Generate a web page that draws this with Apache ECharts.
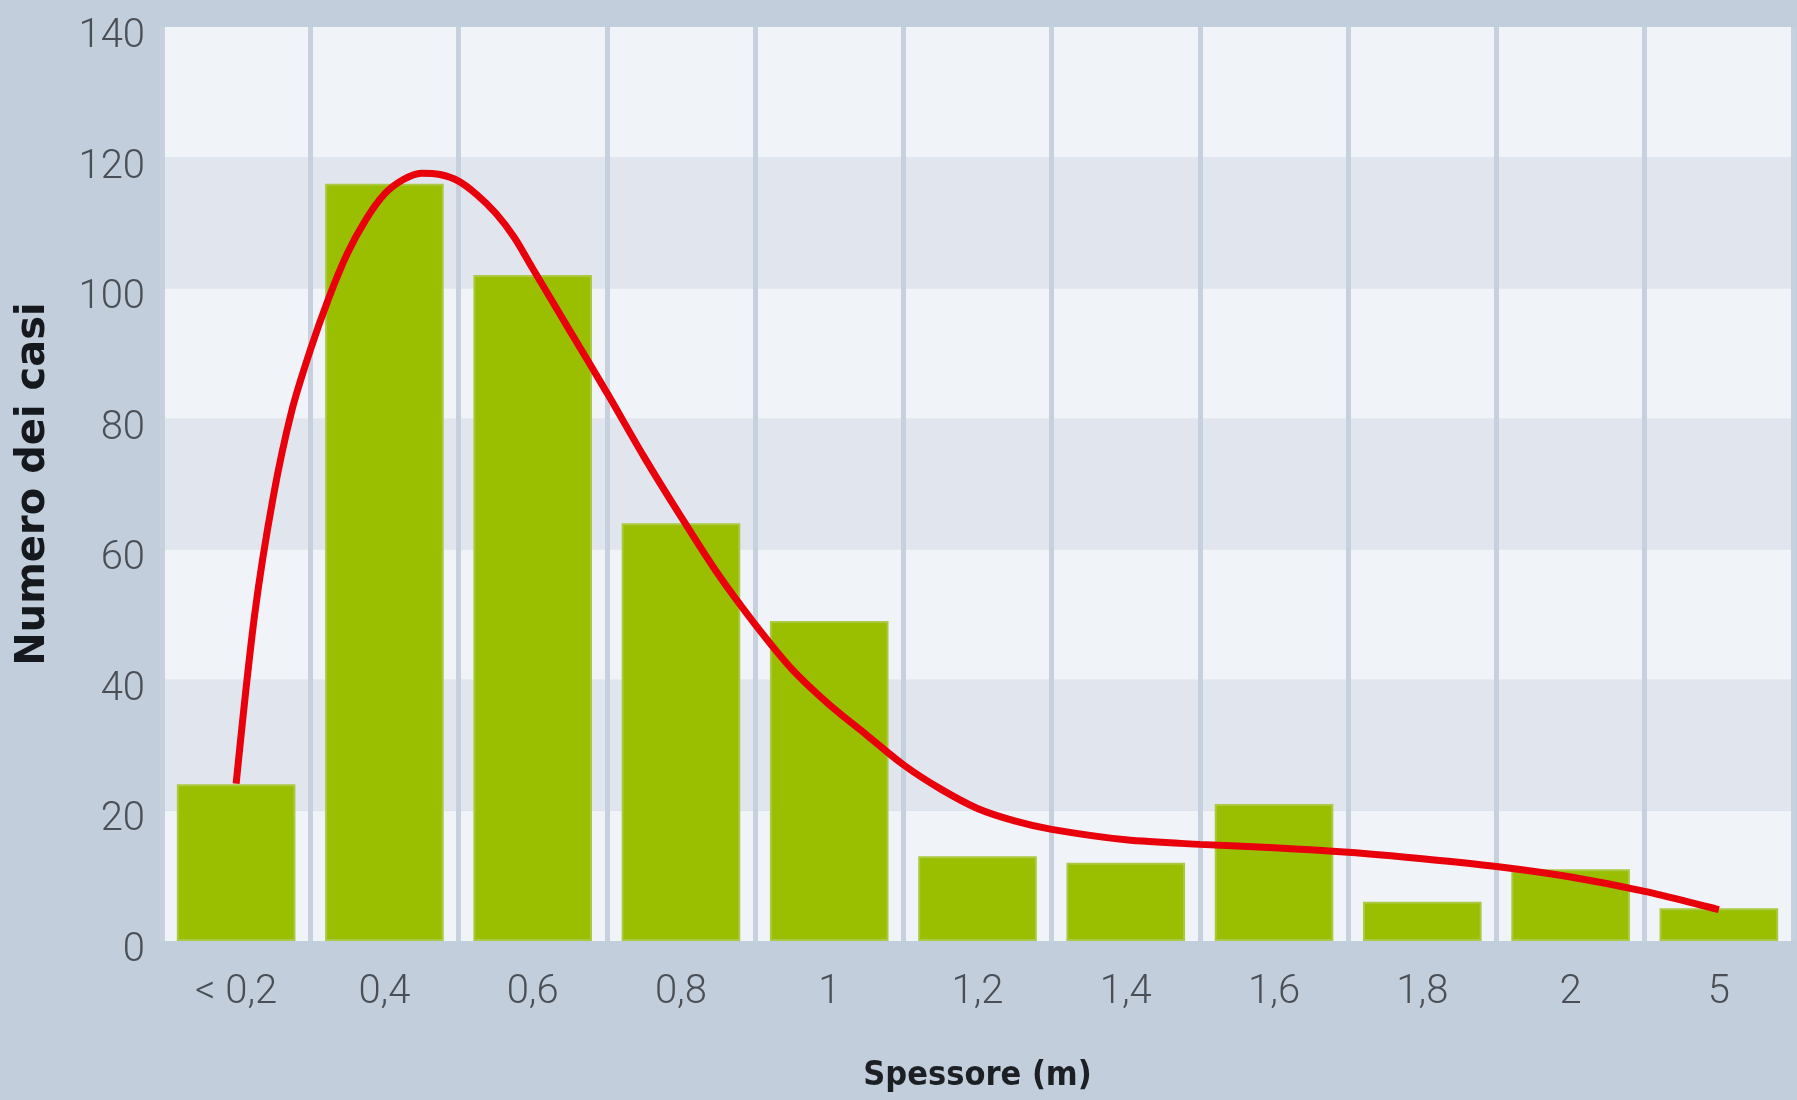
<!DOCTYPE html>
<html>
<head>
<meta charset="utf-8">
<script src="https://cdn.jsdelivr.net/npm/echarts@6/dist/echarts.min.js"></script>
<style>
html,body{margin:0;padding:0;background:#c2cedb;}
#chart{width:1797px;height:1100px;}
</style>
</head>
<body>
<div id="chart"></div>
<script>
// Categories (thickness classes, m)
const categories = ['< 0,2', '0,4', '0,6', '0,8', '1', '1,2', '1,4', '1,6', '1,8', '2', '5'];
// Number of cases per class
const counts = [24, 116, 102, 64, 49, 13, 12, 21, 6, 11, 5];
// Fitted curve: positions in category units, values in cases
const curveX = [0, 0.125, 0.25, 0.375, 0.5, 0.625, 0.75, 0.875, 1, 1.125, 1.25, 1.375, 1.5, 1.625, 1.75, 1.875, 2, 2.25, 2.5, 2.75, 3, 3.25, 3.5, 3.75, 4, 4.25, 4.5, 4.75, 5, 5.25, 5.5, 6, 6.5, 7, 7.5, 8, 8.5, 9, 9.5, 10];
const curveY = [24.1, 50, 68, 81.2, 90.5, 98.5, 105.3, 110.5, 114.4, 116.6, 117.6, 117.4, 116.4, 114.3, 111.5, 107.8, 103, 93.5, 84, 74.2, 65, 56.2, 48.5, 41.6, 36.2, 31.6, 27, 23.3, 20.3, 18.4, 17.1, 15.5, 14.8, 14.3, 13.6, 12.6, 11.4, 9.8, 7.6, 4.8];
// Y axis ticks
const yMin = 0, yMax = 140, yStep = 20;

const curveData = curveX.map((x, i) => [x, curveY[i]]);
const tickFont = 'Roboto';

const chart = echarts.init(document.getElementById('chart'), null, {renderer: 'canvas'});
chart.setOption({
  backgroundColor: '#c2cedb',
  animation: false,
  grid: {left: 162, right: 4, top: 27, bottom: 159, outerBoundsMode: 'none', containLabel: false},
  xAxis: [{
    type: 'category',
    data: categories,
    boundaryGap: true,
    axisLine: {show: false},
    axisTick: {show: false},
    axisLabel: {
      margin: 32,
      fontFamily: tickFont,
      fontWeight: 300,
      fontSize: 40,
      color: '#4a4f57'
    },
    splitLine: {show: true, lineStyle: {color: '#c6d1dd', width: 5}},
    name: 'Spessore (m)',
    nameLocation: 'middle',
    nameGap: 118,
    nameTextStyle: {
      fontFamily: "'DejaVu Sans Condensed', 'DejaVu Sans'",
      fontWeight: 'bold',
      fontSize: 34,
      color: '#1c1f24'
    }
  }, {
    type: 'value',
    min: -0.5,
    max: 10.5,
    show: false
  }],
  yAxis: {
    type: 'value',
    min: yMin,
    max: yMax,
    interval: yStep,
    axisLine: {show: false},
    axisTick: {show: false},
    splitLine: {show: false},
    splitArea: {show: true, areaStyle: {color: ['#f0f3f7', '#e1e6ee']}},
    axisLabel: {
      margin: 17,
      verticalAlign: 'top',
      lineHeight: 20,
      fontFamily: tickFont,
      fontWeight: 300,
      fontSize: 40,
      color: '#4a4f57'
    },
    name: 'Numero dei casi',
    nameLocation: 'middle',
    nameGap: 108,
    nameRotate: 90,
    nameTextStyle: {
      fontFamily: 'DejaVu Sans',
      fontWeight: 'bold',
      fontSize: 40,
      color: '#15181c'
    }
  },
  series: [{
    type: 'bar',
    data: counts,
    barCategoryGap: '20%',
    itemStyle: {
      color: '#99bf00',
      borderColor: '#abc942',
      borderWidth: 2
    }
  }, {
    type: 'line',
    xAxisIndex: 1,
    data: curveData,
    smooth: 0.3,
    symbol: 'none',
    lineStyle: {color: '#e8000b', width: 7}
  }]
});
</script>
</body>
</html>
